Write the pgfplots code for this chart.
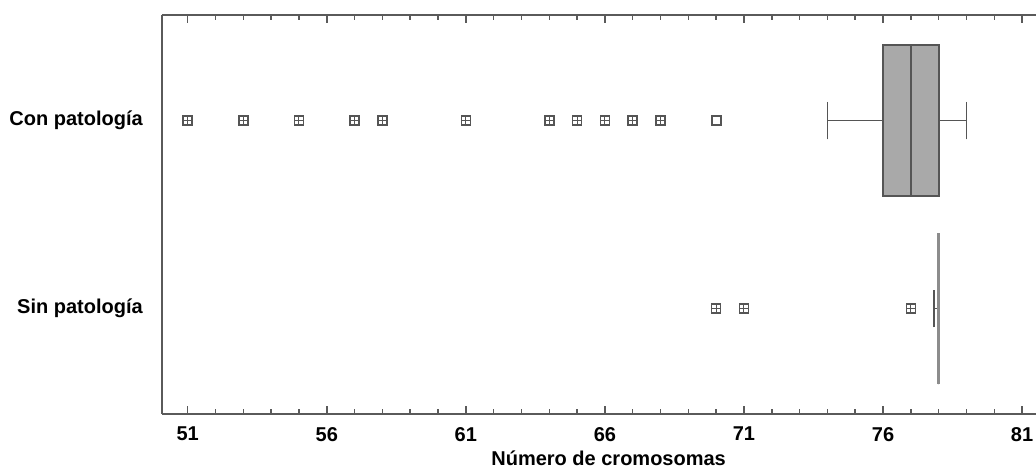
\documentclass[border=0pt]{standalone}
\usepackage{fontspec}
\setmainfont{Liberation Sans}
\usepackage{pgfplots}
\pgfplotsset{compat=1.18}
\usepgfplotslibrary{statistics}
\definecolor{ax}{HTML}{5A5A5A}
\definecolor{boxfill}{HTML}{A9A9A9}
\definecolor{mk}{HTML}{555555}
\definecolor{sinline}{HTML}{8C8C8C}
\begin{document}
\begin{tikzpicture}
\begin{axis}[
  at={(0,0)}, anchor=south west,
  scale only axis, width=874pt, height=399pt,
  xmin=50.076, xmax=81.5, ymin=0.439, ymax=2.561,
  axis x line*=box, axis y line*=left,
  axis line style={ax, line width=1.8pt},
  xtick={51,56,...,81}, xticklabels={51,56,61,66,71,76,81}, minor x tick num=4,
  tick style={ax, line width=1.5pt},
  major tick length=8pt, minor tick length=5pt,
  tick align=inside,
  xtick pos=both,
  ytick={1,2}, yticklabels={Sin patología, Con patología},
  y tick style={draw=none},
  xticklabel style={font=\fontsize{20}{24}\selectfont\bfseries, inner sep=0pt, yshift=-13pt},
  yticklabel style={font=\fontsize{20}{24}\selectfont\bfseries, inner sep=0pt, xshift=-19pt},
  xlabel={Número de cromosomas},
  xlabel style={font=\fontsize{20}{24}\selectfont\bfseries, at={(rel axis cs:0.511,0)}, anchor=center, yshift=-44pt},
  clip=false,
]
% Con patologia box
\addplot[draw=mk, fill=boxfill, line width=1.7pt,
  boxplot prepared={draw direction=x, lower whisker=74, lower quartile=76, median=77,
  upper quartile=78, upper whisker=79, draw position=2, box extend=0.803, whisker extend=0.2}]
  coordinates {};
% Sin patologia box (degenerate)
\addplot[draw=mk, line width=1.6pt,
  boxplot prepared={draw direction=x, lower whisker=77.84, lower quartile=78, median=78,
  upper quartile=78, upper whisker=78, draw position=1, box extend=0.803, whisker extend=0.2}]
  coordinates {};
\addplot[draw=sinline, line width=2.6pt] coordinates {(78,0.5985) (78,1.4015)};
% outliers with cross
\addplot[only marks, mark=square, mark size=4.5pt, mk, line width=1.6pt] coordinates {
 (51,2) (53,2) (55,2) (57,2) (58,2) (61,2) (64,2) (65,2) (66,2) (67,2) (68,2)
 (70,1) (71,1) (77,1)};
\addplot[only marks, mark=+, mark size=4pt, mk, line width=1.0pt] coordinates {
 (51,2) (53,2) (55,2) (57,2) (58,2) (61,2) (64,2) (65,2) (66,2) (67,2) (68,2)
 (70,1) (71,1) (77,1)};
% hollow outlier
\addplot[only marks, mark=square, mark size=4.5pt, mk, line width=1.9pt] coordinates {(70,2)};
\end{axis}
\pgfresetboundingbox
\useasboundingbox (-162pt,-54pt) rectangle (874pt,414pt);
\end{tikzpicture}
\end{document}
